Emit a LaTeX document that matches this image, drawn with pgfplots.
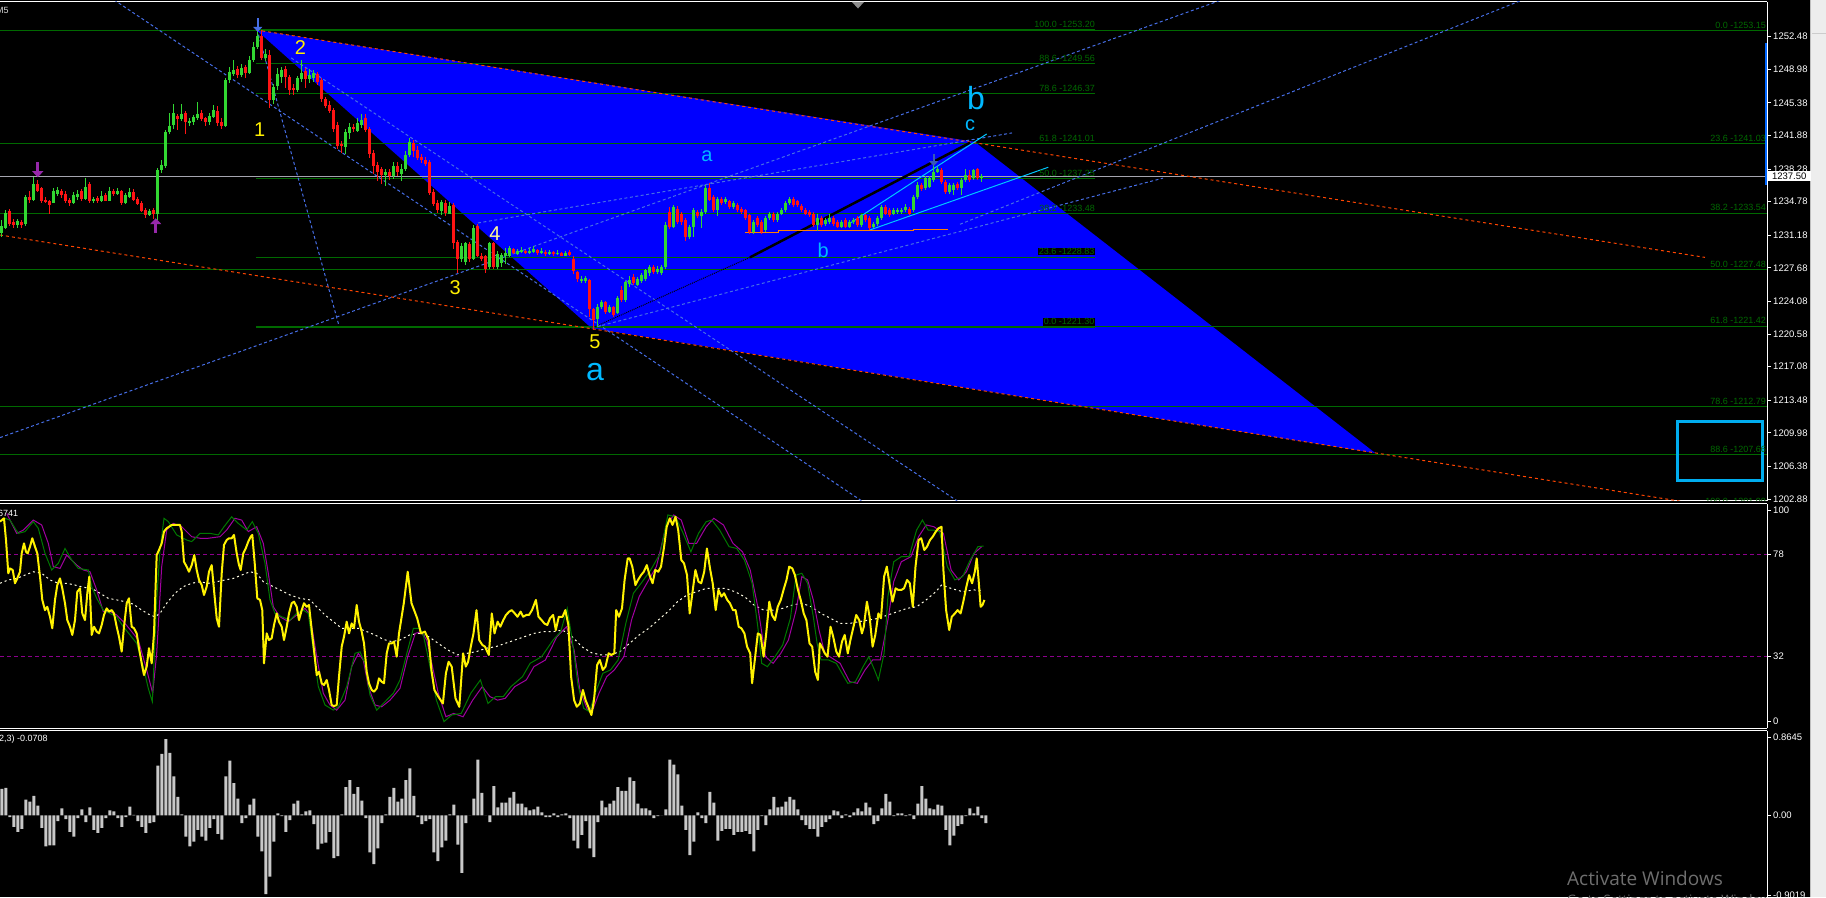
\documentclass[border=0pt]{standalone}
\usepackage{pgfplots}
\pgfplotsset{compat=1.18}
\usepackage{pgfplotstable}
\usepackage{fontspec}
\setmainfont{Liberation Sans}
\newfontfamily\wmfont{Open Sans}
\usetikzlibrary{arrows.meta}
\definecolor{cgreen}{RGB}{50,215,50}
\definecolor{cred}{RGB}{255,20,20}
\definecolor{fibg}{RGB}{0,105,0}
\definecolor{tlblue}{RGB}{70,110,230}
\definecolor{orng}{RGB}{255,69,0}
\definecolor{ewyel}{RGB}{255,240,0}
\definecolor{ew4}{RGB}{255,250,150}
\definecolor{ewcyan}{RGB}{0,185,255}
\definecolor{oscgreen}{RGB}{0,120,0}
\definecolor{oscpurple}{RGB}{160,0,160}
\definecolor{lvlpurple}{RGB}{140,0,140}
\definecolor{histgrey}{RGB}{200,200,200}
\definecolor{pricegrey}{RGB}{165,165,175}
\definecolor{wm}{RGB}{110,110,110}
\definecolor{apurple}{RGB}{150,40,170}
\definecolor{chcyan}{RGB}{0,200,255}
\newcommand\tickfont{\fontsize{9.5}{10}\selectfont}
\newcommand\fibfont{\fontsize{9}{10}\selectfont}

\pgfplotstableread{
i o h l c
0 1231.4 1232.8 1231.0 1232.2
1 1232.0 1233.9 1231.8 1233.6
4 1232.3 1232.9 1232.0 1232.7
6 1232.4 1235.5 1232.2 1235.3
8 1235.0 1237.4 1234.9 1236.7
13 1234.6 1236.2 1234.6 1235.9
14 1235.6 1236.4 1235.4 1236.0
18 1234.6 1235.8 1234.5 1235.5
19 1235.3 1236.0 1235.0 1235.6
21 1235.1 1237.3 1235.0 1236.4
23 1234.8 1235.3 1234.6 1235.1
25 1234.8 1235.9 1234.7 1235.4
27 1234.9 1236.3 1234.8 1235.9
29 1235.6 1236.2 1235.5 1235.9
31 1234.6 1235.7 1234.5 1235.5
32 1235.3 1236.2 1235.2 1235.8
37 1233.3 1234.0 1233.2 1233.8
39 1233.5 1238.4 1232.8 1238.2
40 1238.2 1239.3 1237.8 1238.7
41 1238.6 1242.5 1238.4 1242.3
42 1242.3 1244.3 1242.0 1242.9
43 1243.0 1245.3 1242.6 1244.3
45 1243.6 1245.3 1243.4 1244.2
47 1243.2 1243.8 1242.9 1243.4
48 1243.3 1244.1 1243.0 1243.9
49 1243.8 1245.5 1243.5 1244.2
52 1243.3 1244.3 1243.0 1244.0
53 1243.9 1245.1 1243.7 1244.6
56 1242.9 1248.0 1242.8 1247.8
57 1247.8 1249.2 1247.5 1248.7
58 1248.5 1250.0 1248.3 1248.9
60 1248.4 1249.6 1248.2 1249.1
62 1248.6 1250.4 1248.5 1250.0
63 1250.0 1251.9 1249.8 1251.4
64 1251.4 1253.6 1251.2 1252.6
66 1250.2 1251.2 1249.9 1250.6
68 1245.7 1247.4 1245.3 1247.1
69 1247.2 1249.1 1246.8 1248.5
70 1248.2 1249.2 1247.5 1248.9
74 1246.8 1248.3 1246.5 1248.0
75 1247.9 1250.0 1247.6 1248.6
77 1247.9 1249.0 1247.5 1248.4
78 1248.0 1248.9 1247.6 1248.6
86 1240.6 1242.6 1239.9 1242.3
87 1242.1 1243.2 1241.5 1242.8
89 1242.4 1243.8 1242.2 1243.2
90 1243.0 1244.2 1242.7 1243.5
96 1237.6 1238.3 1236.5 1238.0
98 1237.5 1239.0 1237.2 1238.6
100 1237.7 1238.8 1237.0 1238.3
101 1238.3 1240.2 1238.1 1239.8
102 1239.8 1241.6 1239.6 1241.2
110 1233.8 1235.0 1233.3 1234.7
112 1233.5 1234.7 1233.4 1234.3
115 1228.6 1230.3 1228.3 1230.0
116 1228.3 1230.5 1228.0 1230.3
118 1228.6 1232.3 1228.5 1232.0
122 1227.8 1230.5 1227.6 1230.3
124 1227.8 1229.5 1227.6 1229.2
125 1228.2 1229.3 1227.8 1229.1
126 1228.9 1229.8 1228.1 1229.3
127 1229.0 1230.0 1228.8 1229.8
129 1229.2 1229.7 1229.1 1229.5
130 1229.4 1229.9 1229.3 1229.6
132 1229.3 1229.8 1229.2 1229.5
133 1229.4 1230.0 1229.3 1229.7
135 1229.3 1229.8 1229.2 1229.5
137 1229.2 1229.6 1229.1 1229.4
139 1229.2 1229.6 1229.1 1229.3
141 1229.0 1229.5 1228.9 1229.3
145 1226.3 1226.8 1226.1 1226.5
146 1226.3 1226.8 1226.1 1226.6
149 1222.2 1223.8 1221.3 1223.5
150 1223.5 1224.2 1223.3 1224.0
152 1222.9 1223.7 1222.8 1223.5
154 1222.8 1224.7 1222.7 1224.4
156 1224.2 1226.3 1224.0 1226.2
157 1225.9 1226.8 1225.6 1226.4
159 1225.8 1226.7 1225.7 1226.5
160 1226.3 1227.1 1226.0 1226.9
161 1226.5 1227.6 1226.3 1227.4
162 1227.1 1228.0 1226.8 1227.8
164 1227.2 1227.9 1227.0 1227.6
165 1227.1 1228.0 1226.9 1227.8
166 1227.8 1232.6 1227.6 1232.3
168 1232.1 1234.4 1232.0 1234.2
172 1231.0 1232.3 1230.8 1232.1
173 1232.1 1234.1 1231.0 1233.9
175 1233.2 1234.0 1232.0 1233.7
176 1233.7 1236.6 1233.5 1236.2
179 1233.9 1235.3 1233.2 1235.1
181 1234.7 1235.3 1234.5 1235.1
183 1234.2 1234.8 1234.0 1234.6
188 1231.5 1232.8 1231.3 1232.6
191 1231.7 1233.2 1231.5 1233.0
192 1233.0 1233.7 1232.8 1233.5
194 1232.8 1233.7 1232.6 1233.5
195 1233.5 1234.1 1233.3 1233.9
196 1233.9 1234.8 1233.7 1234.6
197 1234.6 1235.3 1234.4 1235.1
204 1232.3 1233.5 1231.6 1233.0
206 1232.4 1233.0 1232.2 1232.8
207 1232.6 1233.5 1232.4 1233.0
210 1232.1 1232.8 1231.9 1232.6
212 1232.1 1232.8 1231.9 1232.6
213 1232.6 1233.0 1232.4 1232.8
215 1232.3 1233.5 1232.1 1233.3
218 1232.1 1232.6 1231.9 1232.4
219 1232.4 1233.2 1232.2 1233.0
220 1233.0 1234.4 1232.8 1234.2
223 1233.5 1234.1 1233.3 1233.9
224 1233.7 1234.1 1233.5 1233.9
225 1233.7 1234.1 1233.5 1233.9
226 1233.9 1234.5 1233.7 1234.2
228 1233.9 1235.5 1233.7 1235.3
229 1235.3 1236.9 1235.1 1236.6
231 1236.2 1237.5 1236.0 1237.3
232 1236.4 1237.5 1236.2 1237.3
233 1237.1 1238.7 1236.9 1238.0
234 1238.0 1238.5 1237.8 1238.3
237 1235.8 1236.8 1235.6 1236.6
238 1236.0 1236.8 1235.5 1236.6
240 1236.2 1237.3 1235.5 1237.1
241 1237.1 1238.3 1236.9 1237.6
243 1237.3 1238.3 1237.1 1238.2
245 1237.3 1237.7 1236.9 1237.5
}\upc

\pgfplotstableread{
i o h l c
2 1233.8 1234.0 1232.2 1232.4
3 1232.6 1232.9 1232.0 1232.3
5 1232.6 1232.8 1232.0 1232.3
7 1235.3 1235.9 1234.6 1235.0
9 1236.7 1237.1 1235.8 1235.9
10 1236.2 1236.3 1234.6 1234.9
11 1235.0 1235.3 1234.6 1234.8
12 1234.8 1235.0 1233.5 1234.4
15 1235.9 1236.1 1235.2 1235.5
16 1235.6 1235.9 1234.6 1234.8
17 1235.0 1235.2 1234.3 1234.6
20 1235.9 1236.1 1234.9 1235.1
22 1236.7 1236.9 1234.6 1234.9
24 1235.2 1235.4 1234.6 1234.8
26 1235.5 1235.7 1234.8 1234.9
28 1235.9 1236.1 1235.4 1235.6
30 1235.9 1236.0 1234.4 1234.6
33 1235.8 1236.1 1234.9 1235.0
34 1235.1 1235.3 1234.4 1234.5
35 1234.6 1234.8 1233.7 1233.8
36 1233.9 1234.1 1233.0 1233.3
38 1233.9 1234.1 1232.9 1233.5
44 1244.0 1244.2 1242.5 1243.6
46 1244.3 1244.5 1242.0 1243.3
50 1244.3 1244.6 1243.4 1243.6
51 1243.7 1243.9 1242.9 1243.3
54 1244.5 1245.0 1242.9 1243.2
55 1243.3 1243.7 1242.6 1242.9
59 1249.0 1249.3 1248.0 1248.4
61 1249.2 1249.4 1248.0 1248.6
65 1252.5 1253.2 1250.0 1250.2
67 1250.5 1251.0 1244.8 1245.7
71 1249.0 1249.3 1247.0 1248.1
72 1248.1 1248.4 1246.2 1246.8
73 1247.0 1247.4 1246.2 1246.8
76 1248.8 1249.1 1247.0 1247.9
79 1248.5 1248.7 1247.3 1247.6
80 1247.8 1248.0 1245.5 1245.8
81 1245.8 1246.0 1244.8 1245.0
82 1245.2 1245.6 1244.3 1244.5
83 1244.6 1244.8 1242.2 1242.6
84 1243.0 1243.3 1240.4 1240.7
85 1241.0 1241.3 1240.0 1240.8
88 1242.8 1243.1 1242.3 1242.6
91 1243.7 1244.2 1242.3 1242.5
92 1242.6 1242.8 1239.5 1239.9
93 1240.0 1240.3 1237.7 1238.6
94 1238.7 1239.0 1237.0 1238.0
95 1238.3 1238.5 1236.7 1237.6
97 1238.0 1238.3 1237.1 1237.5
99 1238.6 1239.0 1237.5 1238.0
103 1241.1 1241.4 1239.6 1240.2
104 1240.3 1240.8 1239.2 1239.5
105 1239.6 1239.9 1238.9 1239.2
106 1239.3 1239.6 1238.6 1238.8
107 1239.0 1239.2 1235.5 1235.7
108 1235.8 1236.1 1234.3 1234.5
109 1234.6 1235.0 1233.6 1233.9
111 1234.6 1235.0 1233.2 1233.6
113 1234.4 1234.6 1229.7 1230.3
114 1230.4 1230.7 1227.1 1228.6
117 1230.2 1230.5 1228.3 1228.6
119 1232.2 1232.4 1228.8 1229.0
120 1229.0 1229.3 1228.4 1228.6
121 1228.9 1229.1 1227.1 1227.6
123 1230.3 1230.5 1227.5 1227.8
128 1229.7 1229.8 1229.2 1229.3
131 1229.5 1229.6 1229.2 1229.3
134 1229.6 1229.7 1229.1 1229.3
136 1229.4 1229.6 1229.0 1229.2
138 1229.4 1229.5 1229.0 1229.2
140 1229.3 1229.4 1228.9 1229.0
142 1229.4 1229.6 1229.0 1229.1
143 1228.6 1228.9 1227.0 1227.3
144 1227.2 1227.3 1226.2 1226.5
147 1226.4 1226.5 1222.4 1223.3
148 1223.3 1223.4 1221.0 1222.1
151 1224.0 1224.1 1222.7 1222.9
153 1223.5 1223.6 1222.4 1222.6
155 1225.3 1225.7 1224.0 1224.2
158 1226.7 1227.0 1225.8 1226.0
163 1227.8 1228.0 1227.0 1227.2
167 1233.7 1234.2 1231.8 1232.1
169 1234.0 1234.3 1232.4 1232.6
170 1233.5 1233.7 1232.3 1232.6
171 1232.8 1233.0 1230.6 1231.0
174 1233.7 1233.9 1233.0 1233.2
177 1236.2 1236.8 1234.8 1235.0
178 1235.3 1235.5 1233.7 1233.9
180 1235.1 1235.3 1234.4 1234.6
182 1234.9 1235.0 1234.0 1234.2
184 1234.4 1234.6 1233.7 1233.9
185 1234.0 1234.2 1233.5 1233.7
186 1233.9 1234.0 1232.8 1233.0
187 1233.3 1233.4 1231.3 1231.5
189 1233.0 1233.2 1232.1 1232.3
190 1232.6 1232.8 1231.3 1231.5
193 1233.5 1233.7 1232.6 1232.8
198 1235.1 1235.3 1234.2 1234.4
199 1234.8 1235.0 1234.2 1234.4
200 1234.3 1234.5 1233.7 1233.9
201 1233.9 1234.1 1233.3 1233.5
202 1233.7 1233.9 1233.1 1233.3
203 1233.5 1233.7 1232.1 1232.3
205 1233.0 1233.2 1232.1 1232.3
208 1233.0 1233.2 1232.2 1232.4
209 1232.6 1232.8 1231.9 1232.1
211 1232.8 1233.0 1231.9 1232.1
214 1233.0 1233.2 1232.1 1232.3
216 1233.3 1233.5 1232.6 1232.8
217 1233.0 1233.2 1231.7 1231.9
221 1234.2 1234.4 1233.3 1233.5
222 1233.9 1234.1 1233.1 1233.3
227 1234.0 1234.2 1233.3 1233.5
230 1236.6 1236.8 1235.9 1236.1
235 1238.2 1238.4 1236.7 1236.9
236 1236.9 1237.1 1235.6 1235.8
239 1236.7 1236.9 1236.0 1236.2
242 1237.6 1238.2 1236.9 1237.1
244 1238.3 1238.4 1237.1 1237.3
}\dnc

\pgfplotsset{mt/.style={scale only axis, width=1767pt, xmin=0, xmax=1767,
  anchor=south west, axis x line*=box, axis y line*=right,
  axis line style={white, line width=1pt}, xtick=\empty,
  tick style={white, line width=0.8pt}, tick align=outside, major tick length=4pt,
  yticklabel style={white, font=\tickfont, anchor=west, inner sep=0pt, xshift=2pt},
  clip mode=individual}}

\begin{document}
\begin{tikzpicture}
\fill[black] (0pt,0pt) rectangle (1810pt,897pt);
\fill[black!7] (1810pt,0pt) rectangle (1826pt,897pt);
\draw[black!25] (1810.5pt,0pt) -- (1810.5pt,897pt);
\draw[black!20] (1812pt,864pt) -- (1826pt,864pt);

% ===== main price panel =====
\begin{axis}[mt, at={(0pt,396pt)}, height=499pt, ymin=1202.66, ymax=1256.2,
  ytick={1202.88,1206.38,1209.98,1213.48,1217.08,1220.58,1224.08,1227.68,1231.18,1234.78,1238.28,1241.88,1245.38,1248.98,1252.48},
  yticklabels={1202.88,1206.38,1209.98,1213.48,1217.08,1220.58,1224.08,1227.68,1231.18,1234.78,1238.28,1241.88,1245.38,1248.98,1252.48}]
\addplot[fill=blue, draw=none] coordinates {(256.2,1253.2) (974.7,1241.2) (1375.3,1207.8) (591.6,1221.2)} -- cycle;
\pgfplotsinvokeforeach{1253.15,1241.03,1233.54,1227.48,1212.79,1207.66,1201.99}{
  \addplot[fibg, line width=1pt] coordinates {(0,#1) (1767,#1)};}
\addplot[fibg, line width=1pt] coordinates {(256,1221.42) (1767,1221.42)};
\pgfplotsinvokeforeach{1253.20,1249.56,1246.37,1241.01,1237.25,1233.48,1228.83,1221.30}{
  \addplot[fibg, line width=1pt] coordinates {(256,#1) (1095,#1)};}
\addplot[pricegrey, line width=1pt] coordinates {(0,1237.5) (1767,1237.5)};
\addplot[orng, line width=1pt, dash pattern=on 3pt off 3pt] coordinates {(256.2,1253.2) (1705,1228.8)};
\addplot[orng, line width=1pt, dash pattern=on 3pt off 3pt] coordinates {(0,1231.2) (1700,1202.3)};
\addplot[tlblue, line width=1pt, dash pattern=on 3pt off 2.5pt] coordinates {(114.1,1256.42) (861.7,1202.67)};
\addplot[tlblue, line width=1pt, dash pattern=on 3pt off 2.5pt] coordinates {(291.2,1250.2) (957.2,1202.67)};
\addplot[tlblue, line width=1pt, dash pattern=on 3pt off 2.5pt] coordinates {(258.5,1252.7) (338.9,1221.5)};
\addplot[tlblue, line width=1pt, dash pattern=on 3pt off 2.5pt] coordinates {(0,1209.46) (1221.6,1256.42)};
\addplot[tlblue, line width=1pt, dash pattern=on 3pt off 2.5pt] coordinates {(478,1232.49) (1012,1242.15)};
\addplot[tlblue, line width=1pt, dash pattern=on 3pt off 2.5pt] coordinates {(591.6,1221.2) (1163,1237.3)};
\addplot[tlblue, line width=1pt, dash pattern=on 3pt off 2.5pt] coordinates {(960,1232.35) (1522,1256.4)};
\addplot[black, line width=1pt, dash pattern=on 1pt off 1pt] coordinates {(591.6,1221.2) (750,1228.8)};
\addplot[black, line width=2.5pt] coordinates {(750,1228.8) (970,1241.1)};
\addplot[chcyan, line width=1pt] coordinates {(850,1232.46) (986.7,1242.04)};
\addplot[chcyan, line width=1pt] coordinates {(870,1231.74) (1048.3,1238.47)};
\addplot[orange, line width=1pt] coordinates {(745,1231.5) (778,1231.5) (778,1231.63) (847,1231.63) (847,1231.7) (913,1231.7) (913,1231.8) (948,1231.8)};
\addplot[draw=none, mark=none, error bars/.cd, y dir=both, y explicit, error mark=none,
  error bar style={draw=cgreen, line width=1pt}]
  table[x expr=1.75+4*\thisrow{i}, y expr=0.5*(\thisrow{h}+\thisrow{l}), y error expr=0.5*(\thisrow{h}-\thisrow{l})] {\upc};
\addplot[draw=none, mark=none, error bars/.cd, y dir=both, y explicit, error mark=none,
  error bar style={draw=cred, line width=1pt}]
  table[x expr=1.75+4*\thisrow{i}, y expr=0.5*(\thisrow{h}+\thisrow{l}), y error expr=0.5*(\thisrow{h}-\thisrow{l})] {\dnc};
\addplot[draw=none, mark=none, error bars/.cd, y dir=both, y explicit, error mark=none,
  error bar style={draw=cgreen, line width=2.7pt}]
  table[x expr=1.75+4*\thisrow{i}, y expr=0.5*(\thisrow{o}+\thisrow{c}), y error expr=0.5*(\thisrow{c}-\thisrow{o})] {\upc};
\addplot[draw=none, mark=none, error bars/.cd, y dir=both, y explicit, error mark=none,
  error bar style={draw=cred, line width=2.7pt}]
  table[x expr=1.75+4*\thisrow{i}, y expr=0.5*(\thisrow{o}+\thisrow{c}), y error expr=0.5*(\thisrow{o}-\thisrow{c})] {\dnc};
\addplot[apurple, line width=3pt, -{Triangle[length=6pt,width=11pt]}] coordinates {(37.75,1239.0) (37.75,1237.4)};
\addplot[apurple, line width=3pt, -{Triangle[length=6pt,width=11pt]}] coordinates {(155.75,1231.4) (155.75,1233.0)};
\addplot[tlblue, line width=2pt, -{Triangle[length=5pt,width=9pt]}] coordinates {(257.75,1254.5) (257.75,1253.0)};
\addplot[tlblue!80!black, line width=2pt, -{Triangle[length=5pt,width=9pt]}] coordinates {(933.75,1239.9) (933.75,1238.6)};
\addplot[cyan, line width=3pt] coordinates {(1677.3,1211.17) (1762.3,1211.17) (1762.3,1204.84) (1677.3,1204.84)} -- cycle;
\addplot[blue!60!cyan, line width=2pt] coordinates {(1765.5,1251.8) (1765.5,1236.6)};
\addplot[fill=black!45, draw=none] coordinates {(852,1256.2) (864,1256.2) (858,1255.5)} -- cycle;
\node[anchor=south east, inner sep=0pt, yshift=2pt, text=fibg, font=\fibfont] at (axis cs:1766,1253.15) {0.0 -1253.15};
\node[anchor=south east, inner sep=0pt, yshift=2pt, text=fibg, font=\fibfont] at (axis cs:1766,1241.03) {23.6 -1241.03};
\node[anchor=south east, inner sep=0pt, yshift=2pt, text=fibg, font=\fibfont] at (axis cs:1766,1233.54) {38.2 -1233.54};
\node[anchor=south east, inner sep=0pt, yshift=2pt, text=fibg, font=\fibfont] at (axis cs:1766,1227.48) {50.0 -1227.48};
\node[anchor=south east, inner sep=0pt, yshift=2pt, text=fibg, font=\fibfont] at (axis cs:1766,1221.42) {61.8 -1221.42};
\node[anchor=south east, inner sep=0pt, yshift=2pt, text=fibg, font=\fibfont] at (axis cs:1766,1212.79) {78.6 -1212.79};
\node[anchor=south east, inner sep=0pt, yshift=2pt, text=fibg, font=\fibfont] at (axis cs:1766,1207.66) {88.6 -1207.66};
\begin{scope}
\clip (rel axis cs:0,0) rectangle (rel axis cs:1,1);
\node[anchor=south east, inner sep=0pt, yshift=2pt, text=fibg, font=\fibfont] at (axis cs:1766,1201.99) {100.0 -1201.99};
\end{scope}
\node[anchor=south east, inner sep=0pt, yshift=2pt, text=fibg, font=\fibfont] at (axis cs:1095,1253.20) {100.0 -1253.20};
\node[anchor=south east, inner sep=0pt, yshift=2pt, text=fibg, font=\fibfont] at (axis cs:1095,1249.56) {88.6 -1249.56};
\node[anchor=south east, inner sep=0pt, yshift=2pt, text=fibg, font=\fibfont] at (axis cs:1095,1246.37) {78.6 -1246.37};
\node[anchor=south east, inner sep=0pt, yshift=2pt, text=fibg, font=\fibfont] at (axis cs:1095,1241.01) {61.8 -1241.01};
\node[anchor=south east, inner sep=0pt, yshift=2pt, text=fibg, font=\fibfont] at (axis cs:1095,1237.25) {50.0 -1237.25};
\node[anchor=south east, inner sep=0pt, yshift=2pt, text=fibg, font=\fibfont] at (axis cs:1095,1233.48) {38.2 -1233.48};
\node[anchor=south east, inner sep=0.5pt, yshift=1.5pt, fill=black, text=fibg, font=\fibfont] at (axis cs:1095,1228.83) {23.6 -1228.83};
\node[anchor=south east, inner sep=0.5pt, yshift=1.5pt, fill=black, text=fibg, font=\fibfont] at (axis cs:1095,1221.30) {0.0 -1221.30};
\node[text=ewyel, font=\fontsize{20}{20}\selectfont] at (axis cs:259.7,1242.55) {1};
\node[text=ewyel, font=\fontsize{20}{20}\selectfont] at (axis cs:300.4,1251.3) {2};
\node[text=ewyel, font=\fontsize{20}{20}\selectfont] at (axis cs:455.3,1225.55) {3};
\node[text=ew4, font=\fontsize{20}{20}\selectfont] at (axis cs:494.9,1231.3) {4};
\node[text=ewyel, font=\fontsize{20}{20}\selectfont] at (axis cs:595,1219.7) {5};
\node[text=ewcyan, font=\fontsize{32}{32}\selectfont] at (axis cs:595,1216.45) {a};
\node[text=ewcyan, font=\fontsize{20}{20}\selectfont] at (axis cs:707,1239.7) {a};
\node[text=ewcyan, font=\fontsize{20}{20}\selectfont] at (axis cs:823.3,1229.6) {b};
\node[text=ewcyan, font=\fontsize{32}{32}\selectfont] at (axis cs:975.9,1245.9) {b};
\node[text=ewcyan, font=\fontsize{20}{20}\selectfont] at (axis cs:970,1243.0) {c};
\node[anchor=west, inner sep=0pt, text=white!85!black, font=\fontsize{9}{10}\selectfont] at (axis cs:-4,1255.3) {M5};
\coordinate (pp) at (axis cs:1767,1237.5);
\end{axis}
\node[fill=white, text=black, font=\tickfont, anchor=west, inner sep=1pt, minimum width=43pt, minimum height=10pt] at ([xshift=0.5pt]pp) {1237.50};

% ===== oscillator panel =====
\begin{axis}[mt, at={(0pt,168.7pt)}, height=224.3pt, ymin=-0.6, ymax=100.55,
  ytick={97.8,78,32,2.7}, yticklabels={100,78,32,0}]
\addplot[lvlpurple, line width=1pt, dash pattern=on 4pt off 3pt] coordinates {(0,78) (1767,78)};
\addplot[lvlpurple, line width=1pt, dash pattern=on 4pt off 3pt] coordinates {(0,32) (1767,32)};
\addplot[white!90!yellow, line width=1pt, dash pattern=on 2pt off 3pt] coordinates {
(0,64.8)(8.3,66.3)(16.7,67.0)(25,68.5)(33.3,70.0)(41.7,69.3)(50,66.3)(58.3,64.8)(66.7,64.8)(75,64.0)(83.3,63.0)(91.7,62.5)(100,60.3)(108.3,58.0)(116.7,57.3)(125,56.5)(133.3,55.4)(141.7,52.7)(150,50.5)(155,49.7)(160,51.2)(166.7,55.8)(175,60.3)(183.3,63.3)(191.7,64.8)(200,65.5)(208.3,64.8)(216.7,65.5)(225,66.3)(233.3,67.0)(241.7,68.5)(250,70.0)(256.7,69.3)(263.3,65.5)(270,64.0)(280,61.8)(290,59.5)(300,58.0)(310,57.3)(316.7,54.2)(325,50.5)(333.3,47.5)(341.7,44.5)(350,44.5)(358.3,44.5)(366.7,43.0)(375,41.5)(383.3,39.5)(391.7,38.5)(400,39.2)(409.6,41.5)(419.1,42.2)(428.7,40.7)(438.3,37.7)(447.8,34.7)(457.4,32.5)(467,33.2)(476.5,34.0)(486.1,35.5)(495.7,36.2)(505.2,37.7)(514.8,39.2)(524.4,40.7)(533.9,42.2)(543.5,43.0)(553.1,43.0)(562.6,43.7)(572.2,40.7)(581.8,36.2)(591.4,33.5)(600.9,32.5)(610.5,32.5)(620,34.0)(629.6,37.7)(639.2,41.5)(648.8,44.5)(658.3,48.2)(667.9,52.0)(677.5,56.5)(687,59.5)(696.6,61.0)(706.2,62.5)(715.7,62.5)(725.3,62.5)(734.9,61.0)(744.4,58.8)(754,55.0)(763.6,52.7)(773.1,52.7)(782.7,53.5)(792.3,55.0)(801.8,55.8)(811.4,54.2)(821,51.2)(830.5,49.0)(840.1,46.7)(849.7,46.7)(859.2,47.5)(868.8,48.2)(878.4,49.0)(887.9,50.5)(897.5,52.0)(907.1,53.5)(916.6,54.2)(926.2,57.3)(935.8,61.0)(941.5,64.0)(951.1,62.5)(962.6,61.0)(974,61.8)(981.7,61.5)};
\addplot[oscpurple, line width=1pt] coordinates {
(6.7,96.3)(13.3,90.3)(16.7,87.3)(23.3,88.8)(33.3,93.3)(41.7,91.1)(48.3,82.8)(53.3,72.3)(60,71.5)(66.7,77.5)(76.7,73.0)(83.3,70.8)(90,70.0)(96.7,61.8)(103.3,52.0)(110,52.0)(116.7,50.5)(125,46.7)(131.7,43.0)(138.3,39.2)(146.7,25.7)(152.7,15.2)(156.7,33.2)(161.7,72.3)(166.7,88.8)(173.3,91.8)(181.7,90.3)(191.7,85.8)(200,85.1)(208.3,85.1)(220,85.8)(226.7,88.8)(235,94.1)(241.7,93.3)(248.3,88.1)(256.7,90.3)(263.3,82.8)(268.3,69.3)(273.3,54.2)(280,49.7)(288.3,47.5)(296.7,50.5)(305,53.5)(310,50.5)(316.7,31.7)(323.3,15.2)(330,9.9)(336.7,7.6)(345,12.1)(351.7,27.2)(358.3,33.2)(363.3,30.2)(368.3,18.2)(375,9.9)(381.7,9.1)(390,12.1)(400,17.4)(407.7,31.7)(415.3,42.2)(421,43.0)(426.8,39.2)(432.5,27.2)(438.3,15.2)(445.9,4.6)(453.6,6.1)(463.1,4.6)(472.7,12.1)(482.3,18.2)(489.9,13.7)(497.6,12.1)(505.2,12.9)(514.8,18.2)(526.3,21.2)(533.9,27.2)(545.4,30.2)(556.9,40.7)(566.5,45.2)(574.1,34.7)(579.9,16.7)(587.5,7.6)(593.3,8.4)(599,15.2)(606.7,22.7)(614.3,25.7)(623.9,31.7)(631.5,48.2)(639.2,58.8)(646.8,64.8)(656.4,72.3)(666,90.3)(673.6,95.6)(681.3,93.3)(688.9,82.8)(696.6,82.8)(706.2,90.3)(713.8,94.1)(723.4,91.1)(733,82.8)(742.5,79.0)(750.2,70.8)(757.8,54.2)(765.5,31.7)(773.1,28.7)(780.8,33.2)(788.4,39.2)(796.1,52.7)(801.8,67.8)(807.6,66.3)(813.3,57.3)(819,43.7)(824.8,33.2)(832.5,30.9)(840.1,28.7)(849.7,20.4)(857.3,19.7)(865,25.7)(872.6,30.2)(880.3,30.2)(887.9,48.2)(893.7,65.5)(901.3,74.5)(910.9,76.8)(918.6,85.8)(926.2,91.1)(933.9,90.3)(943.4,87.3)(951.1,70.8)(958.7,66.3)(966.4,70.0)(974,78.3)(981.7,81.3)};
\addplot[oscgreen, line width=1pt] coordinates {
(5,94.1)(10,93.3)(15,89.6)(18.3,87.3)(25,88.1)(33.3,92.6)(38.3,89.6)(45,78.3)(51.7,70.8)(58.3,73.8)(65,80.5)(71.7,75.3)(78.3,71.5)(88.3,70.8)(91.7,63.3)(96.7,58.0)(103.3,52.7)(110,51.2)(116.7,49.7)(123.3,45.2)(130,41.5)(136.7,37.7)(143.3,27.2)(148.3,17.4)(152.3,11.4)(156.7,57.3)(160,79.8)(164,94.1)(168.3,92.6)(176.7,86.6)(186.7,84.3)(191.7,83.6)(200,87.3)(210,87.3)(218.3,86.6)(224,90.3)(231.7,94.8)(238.3,91.8)(246.7,88.8)(252.3,92.6)(258.3,87.3)(265,73.8)(270,57.3)(275,51.2)(281.7,49.7)(290,48.2)(296.7,51.2)(303.3,52.7)(308.3,51.2)(313.3,34.7)(318.3,18.2)(325,9.9)(333.3,7.6)(338.3,9.1)(346.7,18.2)(355,33.2)(360,33.9)(365,28.7)(370,14.4)(376.7,7.6)(383.3,10.6)(393.3,15.2)(400,21.2)(407.7,34.7)(413.4,44.5)(419.1,44.5)(423,42.2)(428.7,30.2)(436.4,12.1)(444,2.4)(451.7,5.4)(461.2,6.1)(470.8,15.2)(480.4,21.2)(488,10.6)(495.7,13.7)(503.3,13.7)(511,18.2)(522.5,22.7)(530.1,28.7)(541.6,31.7)(553.1,39.2)(560.7,43.0)(567.2,53.5)(572.2,39.2)(578,18.9)(583.7,8.4)(589.4,6.9)(595.2,15.2)(602.8,24.2)(610.5,25.7)(618.1,30.2)(625.8,46.7)(633.4,60.3)(641.1,64.8)(650.7,70.8)(660.2,78.3)(667.9,95.6)(675.5,94.8)(683.2,87.3)(690.9,79.0)(698.5,87.3)(706.2,92.6)(711.9,93.3)(719.6,88.8)(729.1,81.3)(736.8,80.5)(744.4,75.3)(752.1,64.8)(757.8,45.2)(761.7,28.7)(767.4,27.2)(775,31.7)(782.7,37.0)(790.4,49.0)(796.1,68.5)(801.8,69.3)(807.6,64.8)(813.3,49.7)(817.1,37.7)(821,30.2)(828.6,30.2)(836.3,28.7)(843.9,22.7)(847.8,19.7)(855.4,20.4)(863.1,27.2)(868.8,31.7)(874.5,25.7)(878.4,21.2)(884.1,33.2)(887.9,58.8)(893.7,74.5)(901.3,76.8)(909,76.8)(916.6,88.8)(922.4,93.3)(928.1,88.8)(933.9,88.8)(939.6,88.1)(947.3,72.3)(954.9,66.3)(962.6,67.8)(970.2,75.3)(977.9,81.3)(983.6,81.6)};
\addplot[yellow, line width=2pt, line join=round] coordinates {
(0,92.6)(4,94.1)(6,84.3)(8.3,69.3)(10,71.5)(12.7,70.8)(15,64.8)(17.3,67.0)(20,70.0)(21.7,78.3)(24,82.8)(26,79.0)(27.7,78.3)(30,81.3)(32.3,85.1)(35,81.3)(37.3,78.3)(40,67.8)(42.3,57.3)(45,52.7)(47.3,54.2)(50,49.7)(52.3,44.5)(55,57.3)(57.3,64.0)(60,67.0)(62.3,62.5)(65,55.8)(67.3,48.2)(70,45.2)(72.3,41.5)(75,48.2)(77.3,61.0)(80,62.5)(82.3,51.2)(85,48.2)(87.3,60.3)(89.3,67.8)(91.7,41.5)(94,45.2)(96.7,43.0)(99,42.2)(101.7,46.0)(104,50.5)(106.7,53.5)(109,52.0)(111.7,52.7)(114,51.2)(116.7,45.2)(119,40.7)(121.7,34.0)(124,45.2)(126.7,55.8)(129,58.0)(131.7,45.2)(134,44.5)(136.7,42.2)(139,35.5)(141.7,28.7)(144,23.4)(146.7,27.2)(149,35.5)(151.7,28.7)(154,42.2)(156.7,77.5)(159,79.8)(161.7,82.8)(164,88.1)(166.7,89.6)(169,90.3)(171.7,91.1)(175,91.1)(180,91.1)(181.7,88.1)(184,74.5)(186.7,72.3)(189,70.0)(191.7,73.0)(194.3,77.5)(196.7,70.8)(199,66.3)(201.7,64.0)(204,59.5)(206.7,63.3)(209,70.0)(211.7,73.0)(214,61.8)(216.7,49.0)(219,45.2)(221.7,69.3)(224,82.1)(226.7,84.3)(229,85.1)(231.7,85.1)(234,86.6)(236.7,78.3)(239,73.0)(240.7,70.8)(243.3,78.3)(245.7,80.5)(248.3,83.6)(250.7,85.8)(252.3,86.6)(255,72.3)(257.3,58.0)(260,57.3)(262.3,52.7)(264,28.7)(266.7,42.2)(269,39.2)(271.7,40.0)(274,46.0)(276.7,51.2)(279,47.5)(281.7,45.2)(284,39.2)(286.7,45.2)(289,51.2)(291.7,55.8)(294,56.5)(296.7,54.2)(299,48.2)(301.7,52.7)(304,55.8)(306.7,54.2)(309,55.0)(311.7,43.7)(314,34.7)(316.7,23.4)(319,24.9)(321.7,19.7)(324,18.9)(326.7,21.2)(329,16.7)(331.7,9.9)(334,9.4)(336.7,9.9)(339,22.7)(341.7,36.2)(344,40.7)(346.7,47.5)(349,42.2)(351.7,46.7)(354,44.5)(356.7,55.0)(359,47.5)(361.7,43.0)(364,37.7)(366.7,24.9)(369,19.7)(371.7,16.7)(374,15.9)(376.7,17.4)(379,21.9)(381.7,20.4)(384,19.7)(386.7,33.2)(389,37.7)(391.7,37.7)(394,38.5)(396.7,31.7)(399,42.2)
(403.8,55.8)(407.7,70.0)(411.5,55.8)(417.2,49.0)(421,42.2)(424.9,43.0)(428.7,39.2)(431.4,25.7)(434.4,16.7)(438.3,13.7)(442.9,10.6)(445.9,24.2)(448.6,29.4)(451.7,27.2)(455.5,12.9)(459.3,9.1)(463.1,33.2)(465.8,27.2)(468.1,29.4)(470.8,36.2)(473.5,42.2)(476.5,52.7)(479.2,39.2)(482.3,37.0)(485,36.2)(488.8,32.5)(491.8,51.2)(494.5,42.2)(497.6,47.5)(500.3,45.2)(503.3,48.2)(506,50.5)(509.1,52.0)(511.7,52.7)(514.8,51.2)(517.5,49.7)(520.6,52.0)(523.2,49.7)(526.3,50.5)(529,50.5)(532,52.7)(535.9,57.3)(538.5,49.7)(541.6,48.2)(544.3,46.7)(547.3,46.0)(550,49.0)(553.1,50.5)(555.8,43.7)(558.8,49.7)(562.6,49.7)(565.3,52.7)(568.4,46.0)(571.1,22.7)(574.1,12.1)(576.8,9.1)(579.9,10.6)(582.9,16.7)(585.6,12.1)(588.3,9.1)(591.4,5.4)(594,12.1)(597.1,27.9)(599.8,30.2)(602.8,25.7)(605.5,27.2)(608.6,33.2)(611.3,32.5)(614.3,33.2)(616.2,52.7)(618.9,49.7)(622,53.5)(624.6,66.3)(627.7,76.0)(629.6,76.0)(632.3,72.3)(635.4,64.0)(638,66.3)(641.1,68.5)(643.8,70.0)(646.8,73.0)(649.5,68.5)(652.6,64.8)(655.3,70.8)(658.3,70.0)(661,72.3)(664.1,81.3)(666.7,90.3)(669.8,94.1)(672.5,91.1)(675.5,94.8)(678.2,88.8)(681.3,75.3)(684,73.8)(687,68.5)(689.7,51.2)(692.8,61.8)(695.4,70.8)(698.5,65.5)(701.2,64.8)(704.2,70.0)(706.9,80.5)(710,71.5)(712.7,64.8)(715.7,52.7)(718.4,61.8)(721.5,58.8)(724.1,60.3)(727.2,57.3)(729.9,55.8)(733,52.7)(735.6,52.7)(738.7,45.2)(741.4,44.5)(744.4,42.2)(747.1,36.2)(750.2,33.2)(752.1,19.7)(754.8,30.2)(757.8,42.2)(760.5,41.5)(763.6,31.7)(766.2,42.2)(769.3,56.5)(772,50.5)(775,48.2)(777.7,54.2)(780.8,57.3)(783.5,61.8)(786.5,66.3)(789.2,72.3)(792.3,71.5)(794.9,68.5)(798,61.8)(800.7,57.3)(803.7,51.2)(806.4,48.2)(809.5,37.7)(812.2,36.2)(815.2,24.9)(817.9,21.2)(819.8,37.7)(821.7,36.2)(824.8,33.2)(827.5,31.7)(830.5,45.2)(833.2,40.7)(836.3,34.0)(839,31.7)(842,38.5)(844.7,41.5)(847.8,33.2)(850.4,39.2)(853.5,45.2)(856.2,50.5)(859.2,48.2)(861.9,42.2)(863.8,45.2)(866.9,56.5)(869.6,49.7)(872.6,36.2)(875.3,41.5)(878.4,51.2)(881,49.0)(884.1,67.8)(886.8,72.3)(889.9,63.3)(892.5,56.5)(895.6,62.5)(898.3,61.8)(901.3,61.8)(904,62.5)(907.1,66.3)(909.8,64.8)(912.8,54.2)(915.5,72.3)(918.6,84.3)(921.2,85.1)(924.3,79.8)(927,81.3)(930,84.3)(932.7,85.8)(935.8,88.1)(938.5,89.6)(941.5,90.3)(943.4,70.8)(946.1,52.7)(949.2,43.7)(951.8,49.7)(954.9,51.2)(957.6,52.7)(960.6,51.2)(963.3,56.5)(966.4,63.3)(969.1,68.5)(972.1,64.8)(974.8,70.0)(976.7,76.0)(978.6,66.3)(980.6,54.2)(982.5,55.0)(984.4,57.3)};
\node[anchor=west, inner sep=0pt, text=white, font=\fontsize{9}{10}\selectfont] at (axis cs:-2,96.4) {6741};
\end{axis}

% ===== histogram panel =====
\begin{axis}[mt, at={(0pt,-6.2pt)}, height=172.2pt, ymin=-0.9019, ymax=0.8645,
  ytick={0.8,0,-0.817}, yticklabels={0.8645,0.00,-0.9019}]
\addplot[ybar, bar width=3pt, fill=histgrey, draw=none]
 table[row sep=\\, x expr=1.75+4*\coordindex, y=v] {v\\
0.27\\0.28\\-0.02\\-0.12\\-0.17\\-0.14\\0.16\\0.14\\0.2\\0.1\\-0.13\\-0.32\\-0.31\\-0.31\\-0.06\\0.07\\-0.04\\-0.17\\-0.22\\-0.03\\
0.06\\-0.07\\0.08\\-0.15\\-0.18\\-0.13\\-0.03\\0.05\\0.04\\-0.03\\-0.12\\-0.02\\0.09\\0.005\\-0.06\\-0.12\\-0.18\\-0.08\\-0.07\\0.51\\
0.63\\0.78\\0.64\\0.4\\0.19\\0.01\\-0.22\\-0.32\\-0.27\\-0.15\\-0.22\\-0.26\\-0.13\\-0.04\\-0.19\\-0.25\\0.4\\0.56\\0.33\\0.17\\
-0.08\\-0.03\\0.11\\0.17\\-0.22\\-0.37\\-0.81\\-0.63\\-0.27\\0.02\\-0.01\\-0.17\\-0.05\\0.12\\0.15\\0.01\\0.04\\0.05\\-0.09\\-0.35\\
-0.29\\-0.28\\-0.17\\-0.44\\-0.42\\0.01\\0.29\\0.36\\0.22\\0.29\\0.15\\-0.03\\-0.38\\-0.5\\-0.34\\-0.08\\0.01\\0.19\\0.28\\0.14\\
0.17\\0.36\\0.48\\0.2\\-0.02\\-0.09\\-0.06\\-0.04\\-0.38\\-0.47\\-0.33\\-0.26\\0.01\\0.11\\-0.3\\-0.59\\-0.08\\0.0\\0.17\\0.57\\
0.23\\0.0\\-0.07\\0.3\\0.08\\0.13\\0.13\\0.18\\0.24\\0.12\\0.12\\0.08\\0.05\\0.06\\0.09\\0.03\\-0.02\\-0.02\\0.02\\-0.02\\
0.01\\0.02\\-0.03\\-0.26\\-0.34\\-0.2\\-0.06\\-0.34\\-0.43\\-0.07\\0.15\\0.08\\0.12\\0.15\\0.29\\0.25\\0.25\\0.39\\0.35\\0.12\\
0.07\\0.07\\0.05\\-0.03\\-0.01\\0.0\\0.06\\0.57\\0.52\\0.42\\0.1\\-0.15\\-0.41\\-0.27\\0.03\\-0.03\\-0.08\\0.24\\0.13\\-0.26\\
-0.16\\-0.14\\-0.14\\-0.2\\-0.17\\-0.17\\-0.16\\-0.19\\-0.37\\-0.15\\-0.01\\-0.1\\0.06\\0.19\\0.08\\0.09\\0.14\\0.19\\0.16\\0.06\\
-0.05\\-0.1\\-0.14\\-0.14\\-0.22\\-0.12\\-0.07\\-0.04\\0.05\\0.04\\-0.03\\0.01\\-0.02\\0.03\\0.07\\0.04\\0.13\\0.08\\-0.09\\-0.06\\
0.07\\0.22\\0.14\\-0.01\\0.02\\0.02\\-0.01\\0.01\\-0.04\\0.12\\0.3\\0.17\\0.07\\0.06\\0.11\\0.1\\-0.15\\-0.31\\-0.21\\-0.11\\
-0.09\\-0.01\\0.07\\0.02\\0.09\\-0.03\\-0.08\\};
\node[anchor=west, inner sep=0pt, text=white, font=\fontsize{9}{10}\selectfont] at (axis cs:-1,0.777) {2,3) -0.0708};
\end{axis}

\node[anchor=base west, inner sep=0pt, text=wm, font=\wmfont\fontsize{19}{20}\selectfont] at (1567pt,12pt) {Activate Windows};
\begin{scope}
\clip (1560pt,0pt) rectangle (1766pt,20pt);
\node[anchor=base west, inner sep=0pt, text=wm, font=\wmfont\fontsize{13}{14}\selectfont] at (1567pt,-7pt) {Go to Settings to activate Windows.};
\end{scope}
\pgfresetboundingbox
\useasboundingbox (0pt,0pt) rectangle (1826pt,897pt);
\end{tikzpicture}
\end{document}
